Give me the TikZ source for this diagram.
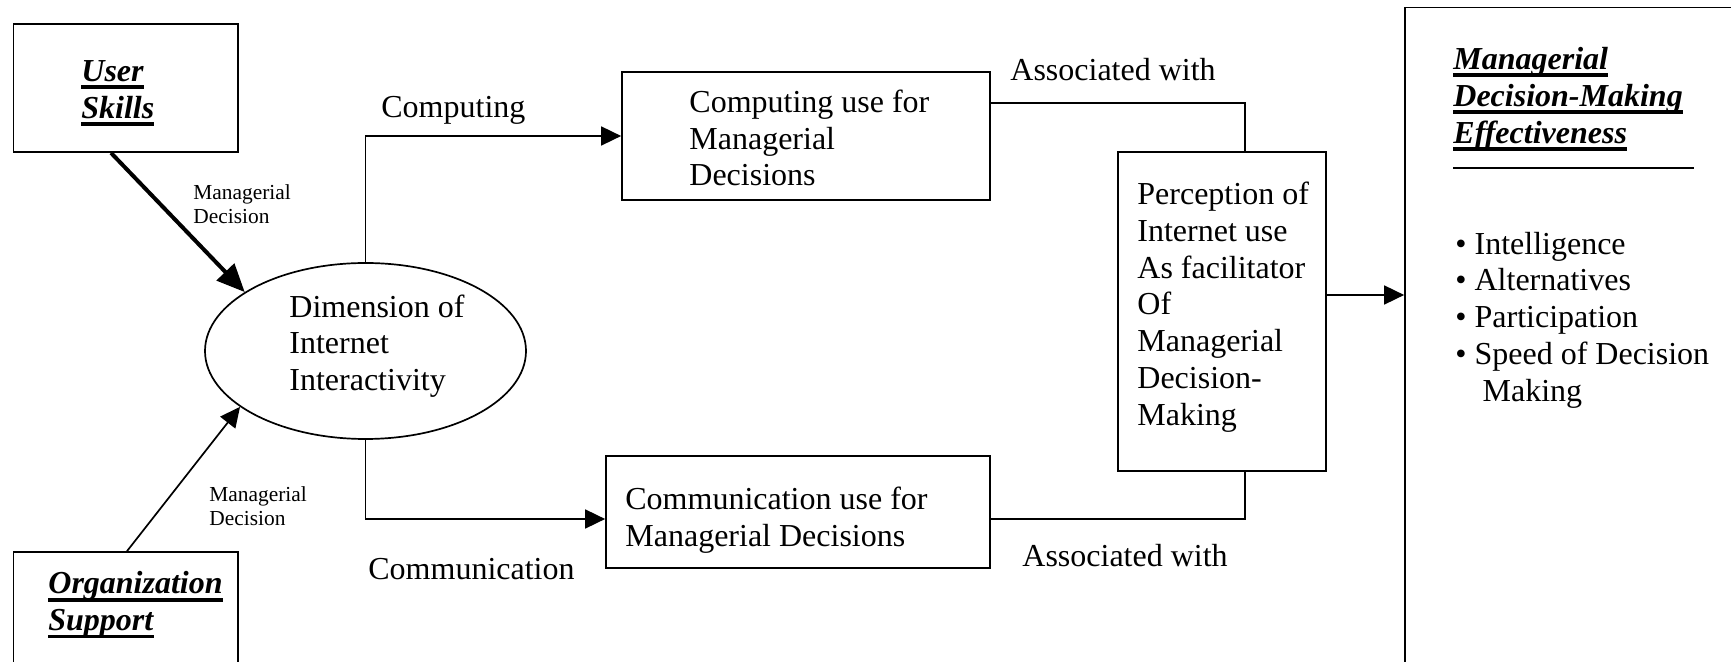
\documentclass[tikz,border=0pt]{standalone}
\usepackage{fontspec}
\setmainfont{Liberation Serif}
\usetikzlibrary{shapes.geometric,arrows.meta}
\newsavebox{\myulbox}
\newcommand{\ulbi}[1]{\sbox{\myulbox}{\textbf{\textit{#1}}}\rlap{\rule[-3.8pt]{\wd\myulbox}{1.8pt}}\usebox{\myulbox}}
\begin{document}
\begin{tikzpicture}[x=0.5pt,y=-0.5pt,
  box/.style={draw,line width=0.85pt,rectangle,inner sep=0pt},
  conn/.style={line width=0.85pt},
  arr/.style={line width=0.85pt,-{Triangle[length=10pt,width=9.5pt]}},
  thickarr/.style={line width=2pt,-{Triangle[length=14pt,width=12pt]}},
  txt/.style={align=left,inner sep=0pt,font=\fontsize{16}{18.4}\selectfont},
  small/.style={align=left,inner sep=0pt,font=\fontsize{10.7}{12.3}\selectfont}]
\fill[white] (0,0) rectangle (1731,662);
\useasboundingbox (0,0) rectangle (1731,662);
% boxes
\node[box,minimum width=112.2pt,minimum height=64pt] (us) at (125.8,88) {};
\node[box,minimum width=112.2pt,minimum height=74pt] (os) at (125.8,626) {};
\node[draw,ellipse,line width=0.85pt,minimum width=160.5pt,minimum height=88pt,inner sep=0pt] (el) at (365.5,351) {};
\node[box,minimum width=184pt,minimum height=64pt] (cb) at (806,136) {};
\node[box,minimum width=192pt,minimum height=56pt] (mb) at (798,512) {};
\node[box,minimum width=104pt,minimum height=159.5pt] (pb) at (1222,311.5) {};
\node[box,minimum width=170pt,minimum height=346.2pt] (eb) at (1575,353.8) {};
% texts
\node[txt,anchor=west] (ust) at (81,93) {\ulbi{User}\\\ulbi{Skills}};
\node[txt,anchor=west] (ost) at (48,605) {\ulbi{Organization}\\\ulbi{Support}};
\node[txt,anchor=west] (elt) at (289,346) {Dimension of\\Internet\\Interactivity};
\node[txt,anchor=west] (cbt) at (689,138) {Computing use for\\Managerial\\Decisions};
\node[txt,anchor=west] (mbt) at (625,520) {Communication use for\\Managerial Decisions};
\node[txt,anchor=west] (pbt) at (1137,307) {Perception of\\Internet use\\As facilitator\\Of\\Managerial\\Decision-\\Making};
\node[txt,anchor=west] (ebt) at (1453,99) {\ulbi{Managerial}\\\ulbi{Decision-Making}\\\ulbi{Effectiveness}};
\node[txt,anchor=west] (ebl) at (1455,320) {\textbullet\ Intelligence\\\textbullet\ Alternatives\\\textbullet\ Participation\\\textbullet\ Speed of Decision\\\hspace*{0.85em}Making};
\coordinate (rl) at (1453,168);
\coordinate (rr) at (1694,168);
\draw[line width=1pt] (rl) -- (rr);
% labels
\node[small,anchor=west] (l1) at (193,204) {Managerial\\Decision};
\node[small,anchor=west] (l2) at (209,506) {Managerial\\Decision};
\node[txt,anchor=west] (lc) at (381,110) {Computing};
\node[txt,anchor=west] (lm) at (368,569) {Communication};
\node[txt,anchor=west] (la1) at (1010,70) {Associated with};
\node[txt,anchor=west] (la2) at (1022,556) {Associated with};
% connectors
\draw[thickarr] (us.south -| 111,0) -- (el.154);
\draw[arr] (os.north -| 127,0) -- (el.204);
\draw[arr] (el.north) |- (cb.west);
\draw[arr] (el.south) |- (mb.west |- 0,519);
\draw[conn] (cb.east |- 0,103) -| (pb.north -| 1245,0);
\draw[conn] (mb.east |- 0,519) -| (pb.south -| 1245,0);
\draw[arr] (pb.east |- 0,295) -- (eb.west |- 0,295);
\end{tikzpicture}
\end{document}
